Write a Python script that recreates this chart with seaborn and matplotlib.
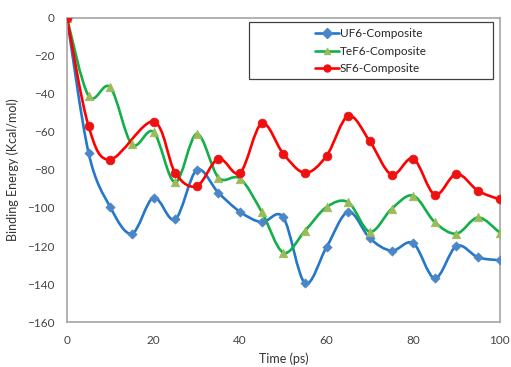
import numpy as np
import pandas as pd
import seaborn as sns
import matplotlib.pyplot as plt
from matplotlib.path import Path
from matplotlib.patches import PathPatch, Rectangle
from matplotlib.lines import Line2D

time_ps = list(range(0, 101, 5))
uf6 = [0, -71, -99.5, -113.5, -94.5, -106, -80, -92, -102, -107.5, -105,
       -139.5, -120.5, -102, -116, -122.5, -118.5, -137, -120, -126, -127.5]
tef6 = [0, -41, -36.5, -66.5, -60, -86.5, -61, -84, -84.5, -102, -123.5,
        -112, -99.5, -97, -112.5, -100.5, -93.5, -107.5, -113.5, -105, -113]
# no SF6 point at 15 ps
sf6_time = [0, 5, 10] + list(range(20, 101, 5))
sf6 = [0, -57, -74.5, -54.5, -81.5, -88.5, -74, -81.5, -55.5, -71.5,
       -81.5, -72.5, -51.5, -65, -82.5, -74, -93, -82, -91, -95.5]
series_names = ['UF6-Composite', 'TeF6-Composite', 'SF6-Composite']

df = pd.DataFrame({'time': time_ps + time_ps + sf6_time,
                   'energy': uf6 + tef6 + sf6,
                   'series': [series_names[0]] * len(uf6) + [series_names[1]] * len(tef6)
                   + [series_names[2]] * len(sf6)})

# line colour, marker colour, marker, marker size
styles = {
    'UF6-Composite': ('#2477c9', '#4a86c8', 'D', 22),
    'TeF6-Composite': ('#12b04a', '#9bbb59', '^', 38),
    'SF6-Composite': ('#ff0000', '#ee1111', 'o', 40),
}


def smooth_path(x, y):
    # excel-like smoothed line: catmull-rom segments as cubic beziers
    x = np.asarray(x, float)
    y = np.asarray(y, float)
    px = np.concatenate([[x[0]], x, [x[-1]]])
    py = np.concatenate([[y[0]], y, [y[-1]]])
    verts = [(x[0], y[0])]
    codes = [Path.MOVETO]
    for i in range(1, len(px) - 2):
        c1 = (px[i] + (px[i + 1] - px[i - 1]) / 6, py[i] + (py[i + 1] - py[i - 1]) / 6)
        c2 = (px[i + 1] - (px[i + 2] - px[i]) / 6, py[i + 1] - (py[i + 2] - py[i]) / 6)
        verts += [c1, c2, (px[i + 1], py[i + 1])]
        codes += [Path.CURVE4] * 3
    return Path(verts, codes)


sns.set_style('white')
plt.rcParams['font.family'] = ['Lato', 'DejaVu Sans']

fig = plt.figure(figsize=(5.11, 3.67), dpi=100)
ax = fig.add_axes([0.131, 0.1226, 0.847, 0.8284])

handles = []
for name in series_names:
    lc, mc, mk, ms = styles[name]
    d = df[df['series'] == name]
    ax.add_patch(PathPatch(smooth_path(d['time'], d['energy']), facecolor='none',
                           edgecolor=lc, lw=1.9, zorder=2))
    sns.scatterplot(data=d, x='time', y='energy', marker=mk, s=ms, color=mc,
                    edgecolor=mc, linewidth=0.5, ax=ax, zorder=3, legend=False)
    handles.append(Line2D([], [], color=lc, lw=1.9, marker=mk, markersize=5,
                          markerfacecolor=mc, markeredgecolor=mc))

ax.set_xlim(0, 100)
ax.set_ylim(-160, 0)
ax.set_xticks(range(0, 101, 20))
ax.set_yticks(range(-160, 1, 20))
ax.tick_params(labelsize=8.5, colors='#444444', length=0, pad=9)
for s in ax.spines.values():
    s.set_color('#a6a6a6')
    s.set_linewidth(1.2)
ax.set_xlabel('Time (ps)', fontsize=9, color='#333333', labelpad=5)
ax.set_ylabel('Binding Energy (Kcal/mol)', fontsize=9, color='#333333', labelpad=6)

ax.add_patch(Rectangle((0.42, 0.80), 0.564, 0.187, transform=ax.transAxes,
                       facecolor='white', edgecolor='#404040', lw=0.9, zorder=4))
leg = ax.legend(handles, series_names, loc='center', bbox_to_anchor=(0.703, 0.89),
                frameon=False, fontsize=8.5, handlelength=2.0, handletextpad=0.1,
                labelspacing=0.55, borderaxespad=0)
leg.set_zorder(5)

fig.savefig('out.png', dpi=100)
